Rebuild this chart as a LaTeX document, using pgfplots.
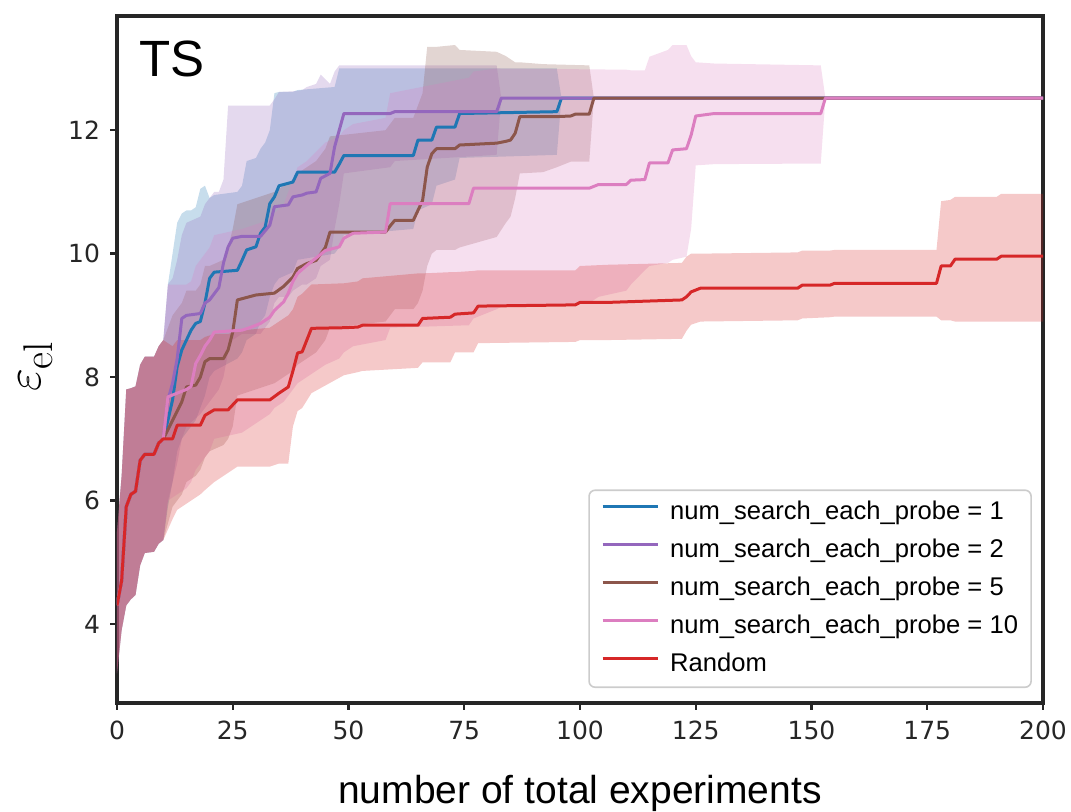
\documentclass[border=0pt]{standalone}
\usepackage[no-math]{fontspec}
\setmainfont{Liberation Sans}
\newfontfamily\tickfont{DejaVu Sans}
\usepackage{pgfplots}
\usepackage{pgfplotstable}
\pgfplotsset{compat=1.18}

\definecolor{cblue}{HTML}{1F77B4}
\definecolor{cpurple}{HTML}{9467BD}
\definecolor{cbrown}{HTML}{8C564B}
\definecolor{cpink}{HTML}{DC7EC0}
\definecolor{cred}{HTML}{D62728}
\definecolor{spine}{HTML}{262626}

% mean curves
\pgfplotstableread{
x m
0 4.3
1 4.7
2 5.9
3 6.1
4 6.15
5 6.65
6 6.75
8 6.75
9 6.93
10 7.0
12 7.0
13 7.22
18 7.22
19 7.38
21 7.47
24 7.47
26 7.63
33 7.63
35 7.74
37 7.84
38 8.1
39 8.39
40 8.41
42 8.79
49 8.8
52 8.81
53 8.84
65 8.84
66 8.95
72 8.97
73 9.02
77 9.04
78 9.15
99 9.17
100 9.21
106 9.21
122 9.25
123 9.30
124 9.38
126 9.44
147 9.44
148 9.49
154 9.49
155 9.52
177 9.52
178 9.80
180 9.80
181 9.91
190 9.91
191 9.96
200 9.96
}\tred

\pgfplotstableread{
x m
0 4.3
1 4.7
2 5.9
3 6.1
4 6.15
5 6.65
6 6.75
8 6.75
9 6.93
10 7.0
11 7.3
12 7.63
13 8.17
14 8.44
15 8.6
16 8.76
17 8.87
18 8.9
19 9.2
20 9.6
21 9.7
26 9.73
27 9.89
28 10.06
30 10.11
31 10.33
32 10.43
33 10.81
34 10.92
35 11.1
38 11.16
39 11.32
47 11.32
48 11.45
49 11.59
64 11.59
65 11.84
68 11.84
69 12.05
73 12.05
74 12.27
95 12.3
96 12.52
200 12.52
}\tblue

\pgfplotstableread{
x m
0 4.3
1 4.7
2 5.9
3 6.1
4 6.15
5 6.65
6 6.75
8 6.75
9 6.93
10 7.0
11 7.63
12 7.9
13 8.3
14 8.95
15 9.0
18 9.03
19 9.2
20 9.25
21 9.35
22 9.45
23 9.85
24 10.11
25 10.25
27 10.28
31 10.28
33 10.46
34 10.76
35 10.77
37 10.79
38 10.92
40 10.95
41 10.98
43 11.0
44 11.22
46 11.3
47 11.73
48 12.0
49 12.27
59 12.27
60 12.3
82 12.3
83 12.52
200 12.52
}\tpurple

\pgfplotstableread{
x m
0 4.3
1 4.7
2 5.9
3 6.1
4 6.15
5 6.65
6 6.75
8 6.75
9 6.93
10 7.0
12 7.3
14 7.6
15 7.84
17 7.87
18 8.0
19 8.25
20 8.3
23 8.3
24 8.44
25 8.73
26 9.25
30 9.33
34 9.36
36 9.47
38 9.62
39 9.76
41 9.84
43 9.89
45 10.1
46 10.35
58 10.35
59 10.45
60 10.54
64 10.54
65 10.7
66 10.86
67 11.4
68 11.62
69 11.7
73 11.7
74 11.76
82 11.79
84 11.82
85 11.84
86 11.95
87 12.22
95 12.22
98 12.23
99 12.26
102 12.26
103 12.52
200 12.52
}\tbrown

\pgfplotstableread{
x m
0 4.3
1 4.7
2 5.9
3 6.1
4 6.15
5 6.65
6 6.75
8 6.75
9 6.93
10 7.0
11 7.68
15 7.8
16 7.85
17 8.22
18 8.35
19 8.5
20 8.6
21 8.73
27 8.76
29 8.81
31 8.87
33 8.97
34 9.08
36 9.22
37 9.36
38 9.55
39 9.68
41 9.81
45 10.05
48 10.11
49 10.25
51 10.33
58 10.35
59 10.81
76 10.81
77 11.06
102 11.06
103 11.09
104 11.12
110 11.12
111 11.19
114 11.2
115 11.47
119 11.47
120 11.68
123 11.7
124 11.92
125 12.23
129 12.27
152 12.27
153 12.52
200 12.52
}\tpink

\begin{document}
\begin{tikzpicture}
\path[use as bounding box] (-58.5pt,-54pt) rectangle (477pt,351.5pt);
\begin{axis}[
  scale only axis,
  width=463pt, height=343.5pt,
  xmin=0, xmax=200, ymin=2.72, ymax=13.85,
  xtick={0,25,...,200}, ytick={4,6,8,10,12},
  xtick pos=bottom, ytick pos=left,
  tick align=outside, major tick length=3.4pt,
  tick style={line width=1.2pt, color=spine},
  axis line style={line width=1.8pt, color=spine},
  /pgf/number format/assume math mode=true,
  ticklabel style={font=\tickfont\fontsize{12.5}{14}\selectfont, text=spine},
  xticklabel style={yshift=-2.2pt},
  yticklabel style={xshift=-1.6pt},
  xlabel={number of total experiments},
  xlabel style={at={(axis description cs:0.5,-0.1456)}, anchor=base, font=\fontsize{19.5}{22}\selectfont},
  ylabel={$\varepsilon_{\mathrm{el}}$},
  ylabel style={at={(axis description cs:-0.088,0.49)}, anchor=center, font=\fontsize{29}{32}\selectfont},
  legend style={at={(axis description cs:0.988,0.0218)}, anchor=south east,
    draw=black!20, line width=0.8pt, rounded corners=3pt,
    fill=white, fill opacity=0.8, text opacity=1,
    font=\fontsize{12.8}{14}\selectfont,
    nodes={inner sep=0.5pt, text height=9.5pt, text depth=3pt},
    row sep=5.5pt, column sep=5pt, inner xsep=6pt, inner ysep=4.5pt},
  legend cell align=left,
  legend image code/.code={\draw[#1, line width=1.5pt] (0pt,3.2pt) -- (27.5pt,3.2pt);},
]
% ---- bands (upper edge forward, lower edge backward) ----
\addplot[fill=cblue, fill opacity=0.25, draw=none, forget plot] table {
0 5.5
1 6.4
2 7.8
3 7.82
4 7.85
5 8.2
6 8.33
8 8.33
9 8.5
10 8.6
11 9.5
12 10.0
13 10.5
14 10.65
15 10.7
16 10.7
17 10.75
18 11.05
19 11.1
20 10.9
21 10.95
26 11.0
27 11.1
28 11.5
30 11.55
31 11.7
32 11.8
33 12.0
34 12.6
35 12.62
38 12.62
39 12.65
47 12.7
48 13.0
95 13.0
96 12.52
95 11.6
74 11.55
73 11.2
69 11.1
68 10.8
65 10.7
64 10.4
49 10.3
48 10.1
47 10.0
39 9.9
38 9.7
35 9.6
34 9.5
33 9.3
32 9.0
31 8.9
30 8.7
28 8.6
27 8.4
26 8.3
21 8.1
20 8.0
19 7.7
18 7.5
17 7.3
16 7.2
15 7.1
14 7.0
13 6.8
12 6.3
11 5.9
10 5.36
9 5.3
8 5.17
6 5.15
5 4.95
4 4.47
3 4.4
2 4.3
1 3.9
0 3.2
} -- cycle;
\addplot[fill=cpurple, fill opacity=0.25, draw=none, forget plot] table {
0 5.5
1 6.4
2 7.8
3 7.82
4 7.85
5 8.2
6 8.33
8 8.33
9 8.5
10 8.6
11 9.5
12 9.6
13 9.9
14 10.3
15 10.5
18 10.6
19 10.8
20 10.9
21 11.0
22 11.0
23 11.2
24 12.4
33 12.4
34 12.5
35 12.62
38 12.63
40 12.65
41 12.7
43 12.75
44 12.9
46 12.75
47 12.95
48 13.05
82 13.05
83 12.52
82 11.6
60 11.5
59 11.4
49 11.3
48 10.8
47 10.4
46 9.9
44 9.8
43 9.6
41 9.5
40 9.5
38 9.4
37 9.3
35 9.3
34 9.2
33 8.9
31 8.7
27 8.7
25 8.6
24 8.4
23 8.0
22 7.8
21 7.7
20 7.6
19 7.5
18 7.4
15 7.2
14 7.0
13 6.6
12 6.3
11 6.0
10 5.36
9 5.3
8 5.17
6 5.15
5 4.95
4 4.47
3 4.4
2 4.3
1 3.9
0 3.2
} -- cycle;
\addplot[fill=cbrown, fill opacity=0.25, draw=none, forget plot] table {
0 5.5
1 6.4
2 7.8
3 7.82
4 7.85
5 8.2
6 8.33
8 8.33
9 8.5
10 8.6
12 9.0
14 9.2
15 9.4
17 9.4
18 9.5
19 9.8
20 9.8
23 9.9
24 10.1
25 10.4
26 10.8
30 10.9
34 11.0
36 11.1
38 11.2
39 11.3
41 11.4
43 11.5
45 11.7
46 11.9
58 12.0
59 12.1
60 12.2
64 12.2
65 12.4
66 12.6
67 13.35
69 13.35
73 13.38
74 13.3
82 13.27
84 13.2
85 13.15
86 13.1
87 13.1
92 13.07
102 13.05
103 12.52
102 11.49
98 11.49
95 11.4
92 11.32
87 11.3
86 10.9
85 10.6
84 10.5
82 10.27
74 10.1
73 10.06
69 10.06
68 10.0
67 9.8
66 9.4
65 9.2
64 9.1
60 9.1
59 9.0
58 8.9
46 8.8
45 8.6
43 8.4
41 8.3
39 8.2
38 8.1
36 8.0
34 7.9
30 7.8
26 7.7
25 7.2
24 7.0
23 6.9
20 6.8
19 6.7
18 6.5
17 6.4
15 6.3
14 6.1
12 5.9
10 5.36
9 5.3
8 5.17
6 5.15
5 4.95
4 4.47
3 4.4
2 4.3
1 3.9
0 3.2
} -- cycle;
\addplot[fill=cpink, fill opacity=0.25, draw=none, forget plot] table {
0 5.5
1 6.4
2 7.8
3 7.82
4 7.85
5 8.2
6 8.33
8 8.33
9 8.5
10 8.6
11 9.5
15 9.5
16 9.55
17 9.8
18 9.9
19 10.0
20 10.1
21 10.3
27 10.4
29 10.45
31 10.5
33 10.55
34 10.65
36 10.8
37 11.0
38 11.2
39 11.4
41 11.5
45 11.8
48 11.9
49 12.0
51 12.1
58 12.2
59 12.6
76 12.85
77 12.95
82 13.0
110 12.98
111 12.97
114 12.97
115 13.19
119 13.3
120 13.38
123 13.38
124 13.2
125 13.1
129 13.08
152 13.05
153 12.52
152 11.46
129 11.45
125 11.43
124 10.4
123 9.95
120 9.9
119 9.85
115 9.8
114 9.73
111 9.5
110 9.4
104 9.3
103 9.25
102 9.2
83 9.14
82 9.1
77 8.95
76 8.84
59 8.8
58 8.6
51 8.5
49 8.4
48 8.3
45 8.2
41 8.0
39 7.9
38 7.8
37 7.7
36 7.6
34 7.5
33 7.4
31 7.3
29 7.2
27 7.1
21 7.0
20 6.8
19 6.7
18 6.6
17 6.5
16 6.3
15 6.2
11 6.0
10 5.36
9 5.3
8 5.17
6 5.15
5 4.95
4 4.47
3 4.4
2 4.3
1 3.9
0 3.2
} -- cycle;
\addplot[fill=cred, fill opacity=0.25, draw=none, forget plot] table {
0 5.5
1 6.4
2 7.8
3 7.82
4 7.85
5 8.2
6 8.33
8 8.33
9 8.5
10 8.6
12 8.5
13 8.6
18 8.6
19 8.65
21 8.7
24 8.7
26 8.75
33 8.8
35 8.9
37 9.0
38 9.1
39 9.3
40 9.35
42 9.5
49 9.52
52 9.55
53 9.6
65 9.68
66 9.68
72 9.7
73 9.7
77 9.72
78 9.73
99 9.73
100 9.8
106 9.82
122 9.85
123 9.95
124 10.0
126 10.0
147 10.02
148 10.05
154 10.05
155 10.06
177 10.06
178 10.85
180 10.87
181 10.92
190 10.92
191 10.97
200 10.97
200 8.9
191 8.9
181 8.9
180 8.92
178 8.92
177 8.98
155 8.98
154 8.97
148 8.95
147 8.92
126 8.9
124 8.85
123 8.75
122 8.62
106 8.6
100 8.6
99 8.57
78 8.55
77 8.4
73 8.4
72 8.24
66 8.24
65 8.15
53 8.1
52 8.08
49 8.03
42 7.74
40 7.5
39 7.45
38 7.2
37 6.6
35 6.6
33 6.55
26 6.55
24 6.45
21 6.3
19 6.17
18 6.1
13 5.85
12 5.7
10 5.36
9 5.3
8 5.17
6 5.15
5 4.95
4 4.47
3 4.4
2 4.3
1 3.9
0 3.2
} -- cycle;
% ---- mean lines ----
\addplot[cblue, line width=1.5pt, line join=round] table[x=x,y=m]{\tblue};
\addlegendentry{num\_search\_each\_probe = 1}
\addplot[cpurple, line width=1.5pt, line join=round] table[x=x,y=m]{\tpurple};
\addlegendentry{num\_search\_each\_probe = 2}
\addplot[cbrown, line width=1.5pt, line join=round] table[x=x,y=m]{\tbrown};
\addlegendentry{num\_search\_each\_probe = 5}
\addplot[cpink, line width=1.5pt, line join=round] table[x=x,y=m]{\tpink};
\addlegendentry{num\_search\_each\_probe = 10}
\addplot[cred, line width=1.5pt, line join=round] table[x=x,y=m]{\tred};
\addlegendentry{Random}
\node[anchor=base west, font=\fontsize{25.5}{30}\selectfont, inner sep=0pt] at (axis description cs:0.024,0.9117) {TS};
\end{axis}
\end{tikzpicture}
\end{document}
